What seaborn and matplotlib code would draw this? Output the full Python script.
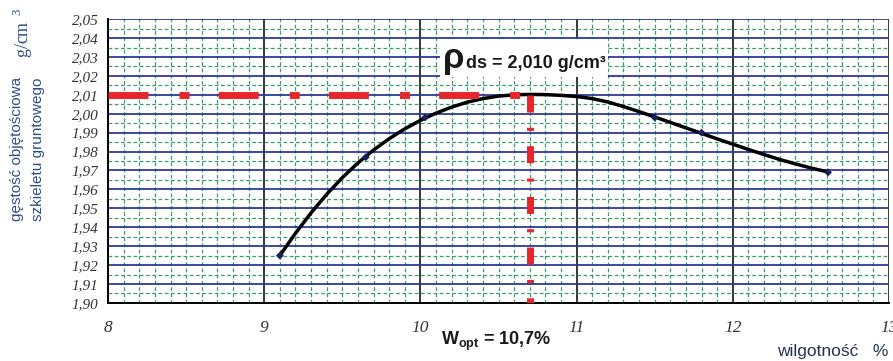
import numpy as np
import matplotlib
matplotlib.use("Agg")
import matplotlib.pyplot as plt
import seaborn as sns
from matplotlib.offsetbox import TextArea, HPacker, AnnotationBbox

# Krzywa zageszczenia (odczyt z wykresu)
curve_w   = [9.10, 9.20, 9.30, 9.40, 9.50, 9.60, 9.70, 9.80, 9.90, 10.00, 10.10, 10.20,
             10.30, 10.40, 10.50, 10.60, 10.70, 10.80, 10.90, 11.00, 11.10, 11.20, 11.30,
             11.40, 11.50, 11.60, 11.70, 11.80, 11.90, 12.00, 12.10, 12.20, 12.30, 12.40,
             12.50, 12.61]
curve_rho = [1.9250, 1.9368, 1.9476, 1.9574, 1.9662, 1.9740, 1.9808, 1.9868, 1.9920, 1.9965,
             2.0003, 2.0035, 2.0061, 2.0080, 2.0093, 2.0100, 2.0102, 2.0101, 2.0097, 2.0091,
             2.0080, 2.0062, 2.0038, 2.0011, 1.9983, 1.9954, 1.9925, 1.9896, 1.9867, 1.9839,
             1.9811, 1.9784, 1.9758, 1.9735, 1.9713, 1.9692]
meas_w    = [9.10, 9.65, 10.03, 11.50, 11.80, 12.61]
meas_rho  = [1.925, 1.977, 1.998, 1.998, 1.990, 1.969]

W_OPT  = 10.7
RHO_DS = 2.010

x_ticks = [8, 9, 10, 11, 12, 13]
y_ticks = np.round(np.arange(1.90, 2.0501, 0.01), 2)

sns.set_style("white")
plt.rcParams["font.family"] = ["Liberation Sans", "DejaVu Sans"]
plt.rcParams["mathtext.fontset"] = "custom"
plt.rcParams["mathtext.rm"] = "Liberation Serif"
plt.rcParams["mathtext.bf"] = "Liberation Sans:bold"

fig, ax = plt.subplots(figsize=(8.93, 3.61), dpi=100)
fig.subplots_adjust(left=0.121, right=0.9955, bottom=0.161, top=0.947)

# siatka
ax.set_xlim(8, 13); ax.set_ylim(1.90, 2.05)
ax.set_xticks(x_ticks)
ax.set_xticks(np.arange(8, 13.001, 0.1), minor=True)
ax.set_yticks(y_ticks)
ax.set_yticks(np.arange(1.905, 2.05, 0.01), minor=True)
ax.grid(which="major", axis="x", color="black", lw=1.1)
ax.grid(which="major", axis="y", color="#2b3a9c", lw=1.3)
ax.grid(which="minor", color="#3f9a6e", lw=0.9, ls=(0, (3, 2)))
ax.set_axisbelow(True)

tick_font = dict(family="Liberation Serif", style="italic", color="#333333")
ax.set_xticklabels([str(v) for v in x_ticks], fontsize=12.5, **tick_font)
ax.set_yticklabels([f"{v:.2f}".replace(".", ",") for v in y_ticks], fontsize=11, **tick_font)
ax.tick_params(axis="x", which="both", direction="out", length=5, width=1, pad=7)
ax.tick_params(axis="y", which="major", direction="out", length=4, width=1, pad=3)
ax.tick_params(axis="y", which="minor", length=0)
ax.spines[["top", "right"]].set_visible(False)
for s in ["left", "bottom"]:
    ax.spines[s].set_color("black"); ax.spines[s].set_linewidth(1.4)

# krzywa i punkty pomiarowe
sns.lineplot(x=curve_w, y=curve_rho, color="black", lw=2.5, sort=False, ax=ax, zorder=3)
sns.scatterplot(x=meas_w, y=meas_rho, marker="D", s=16, color="#1b1f5c",
                edgecolor="none", ax=ax, zorder=4)

# linie odczytu
ax.plot([8, W_OPT], [RHO_DS, RHO_DS], color="#e8262a", lw=5,
        dashes=[5.76, 4.47, 1.44, 4.2], zorder=5)
ax.plot([W_OPT, W_OPT], [RHO_DS, 1.90], color="#e8262a", lw=5,
        dashes=[2.45, 2.2, 0.45, 2.2], zorder=5)

# etykieta rho_ds w bialej ramce
rho_part = TextArea("ρ", textprops=dict(size=25, weight="bold", color="#1a1a1a"))
val_part = TextArea("ds = 2,010 g/cm³", textprops=dict(size=13, weight="bold", color="#1a1a1a"))
pack = HPacker(children=[rho_part, val_part], align="baseline", pad=0, sep=1)
ab = AnnotationBbox(pack, (10.145, 2.0294), xycoords="data", box_alignment=(0, 0.5),
                    frameon=True, pad=0.2, bboxprops=dict(fc="white", ec="none"), zorder=6)
ax.add_artist(ab)

fig.text(0.4938, 0.044, r"W$_{\mathbf{opt}}$ = 10,7%", fontsize=13, fontweight="bold",
         color="#1a1a1a", va="baseline", ha="left")
fig.text(0.995, 0.014, "wilgotność   %", fontsize=12.5, color="#26324f",
         va="baseline", ha="right")

ylab = "#2d4c8a"
fig.text(0.019, 0.387, "gęstość objętościowa", rotation=90, fontsize=11,
         color=ylab, va="bottom", ha="center")
fig.text(0.042, 0.387, "szkieletu gruntowego", rotation=90, fontsize=11,
         color=ylab, va="bottom", ha="center")
fig.text(0.026, 0.839, r"$\mathrm{g/cm}\ ^{3}$", rotation=90, fontsize=13,
         color=ylab, va="bottom", ha="center")

plt.savefig("out.png", dpi=100)
plt.close()
